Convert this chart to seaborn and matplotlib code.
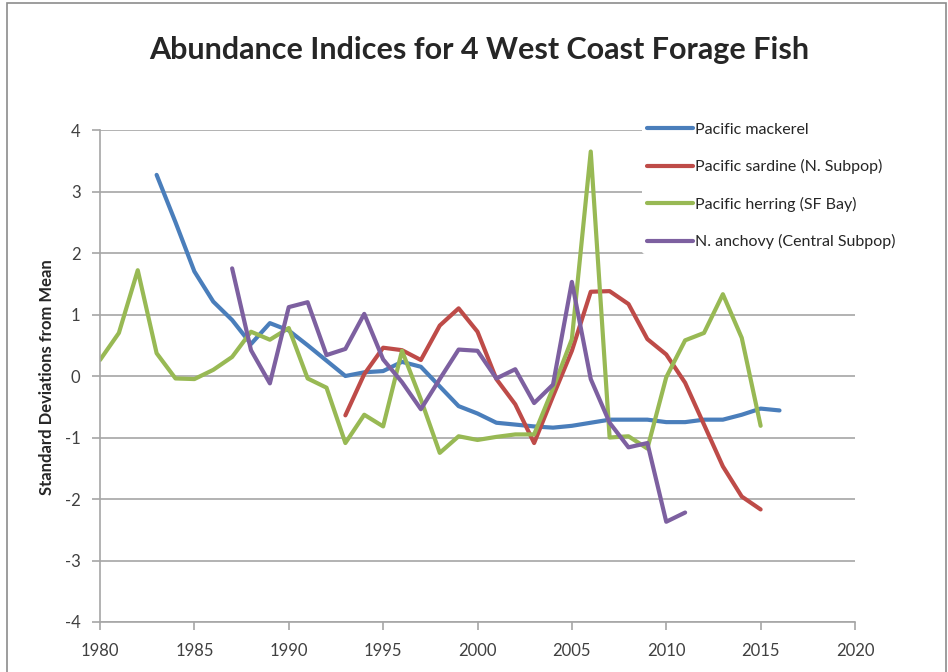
import matplotlib.pyplot as plt
import matplotlib.patches as mpatches
import seaborn as sns
import numpy as np
import pandas as pd

sns.set_style("white")
plt.rcParams["font.family"] = ["Lato", "DejaVu Sans"]
plt.rcParams["axes.unicode_minus"] = False

# data
mackerel_years = list(range(1983, 2017))
mackerel = [3.27, 2.5, 1.7, 1.21, 0.91, 0.52, 0.86, 0.74, 0.5, 0.25,
            0.0, 0.06, 0.08, 0.23, 0.15, -0.17, -0.49, -0.61, -0.76, -0.79,
            -0.82, -0.84, -0.81, -0.76, -0.71, -0.71, -0.71, -0.75, -0.75, -0.71,
            -0.71, -0.63, -0.53, -0.56]

sardine_years = list(range(1993, 2016))
sardine = [-0.64, 0.03, 0.46, 0.42, 0.26, 0.82, 1.1, 0.72, -0.05, -0.46,
           -1.09, -0.33, 0.41, 1.37, 1.38, 1.17, 0.6, 0.35, -0.11, -0.79,
           -1.47, -1.96, -2.17]

herring_years = list(range(1980, 2016))
herring = [0.26, 0.7, 1.72, 0.37, -0.04, -0.05, 0.1, 0.31, 0.72, 0.59,
           0.78, -0.04, -0.19, -1.09, -0.63, -0.82, 0.41, -0.38, -1.25, -0.98,
           -1.04, -0.99, -0.95, -0.95, -0.2, 0.6, 3.65, -1.0, -0.98, -1.18,
           -0.02, 0.58, 0.7, 1.33, 0.62, -0.81]

anchovy_years = list(range(1987, 2012))
anchovy = [1.75, 0.42, -0.12, 1.12, 1.2, 0.34, 0.44, 1.01, 0.27, -0.1,
           -0.54, -0.05, 0.43, 0.41, -0.04, 0.11, -0.44, -0.14, 1.53, -0.05,
           -0.76, -1.16, -1.09, -2.37, -2.22]

names = ["Pacific mackerel", "Pacific sardine (N. Subpop)",
         "Pacific herring (SF Bay)", "N. anchovy (Central Subpop)"]
colors = ["#4A7EBB", "#BE4B48", "#98B954", "#7D60A0"]

frames = []
for name, yrs, vals in zip(names,
                           [mackerel_years, sardine_years, herring_years, anchovy_years],
                           [mackerel, sardine, herring, anchovy]):
    frames.append(pd.DataFrame({"year": yrs, "value": vals, "series": name}))
df = pd.concat(frames, ignore_index=True)

fig = plt.figure(figsize=(9.48, 6.72), dpi=100)
ax = fig.add_axes([100 / 948, 50 / 672, 755 / 948, 492 / 672])

sns.lineplot(data=df, x="year", y="value", hue="series", hue_order=names,
             palette=colors, linewidth=3, ax=ax, legend=False)

ax.set_xlim(1980, 2020)
ax.set_ylim(-4, 4)
ax.set_xticks(np.arange(1980, 2021, 5))
ax.set_yticks(np.arange(-4, 5, 1))
ax.yaxis.grid(True, color="#a6a6a6", linewidth=1.2)
ax.xaxis.grid(False)
ax.set_axisbelow(True)
for s in ["top", "right"]:
    ax.spines[s].set_visible(False)
for s in ["left", "bottom"]:
    ax.spines[s].set_color("#a6a6a6")
    ax.spines[s].set_linewidth(1.2)
ax.tick_params(axis="both", which="major", length=6, width=1.2, color="#a6a6a6",
               direction="out", labelsize=12, labelcolor="#404040", pad=8)
ax.tick_params(axis="x", pad=9)
ax.tick_params(left=True, bottom=True)
ax.set_xlabel("")
ax.set_ylabel("")

fig.text(47 / 948, 1 - 377 / 672, "Standard Deviations from Mean", rotation=90,
         ha="center", va="center", fontsize=12, fontweight="bold")
fig.text(0.506, 0.926, "Abundance Indices for 4 West Coast Forage Fish",
         ha="center", va="center", fontsize=22, fontweight="bold")

handles = [plt.Line2D([], [], color=c, linewidth=3) for c in colors]
fig.legend(handles, names, loc="upper left", bbox_to_anchor=(634 / 948, 1 - 110 / 672),
           frameon=True, facecolor="white", edgecolor="none", framealpha=1,
           fontsize=11.5, handlelength=2.9, handletextpad=0.15, labelspacing=1.4,
           borderpad=0.3)

fig.patches.append(mpatches.Rectangle((7 / 948, -0.05), 939 / 948, 1.045,
                                      transform=fig.transFigure, fill=False,
                                      edgecolor="#8c8c8c", linewidth=1.2))

plt.savefig("out.png", dpi=100)
